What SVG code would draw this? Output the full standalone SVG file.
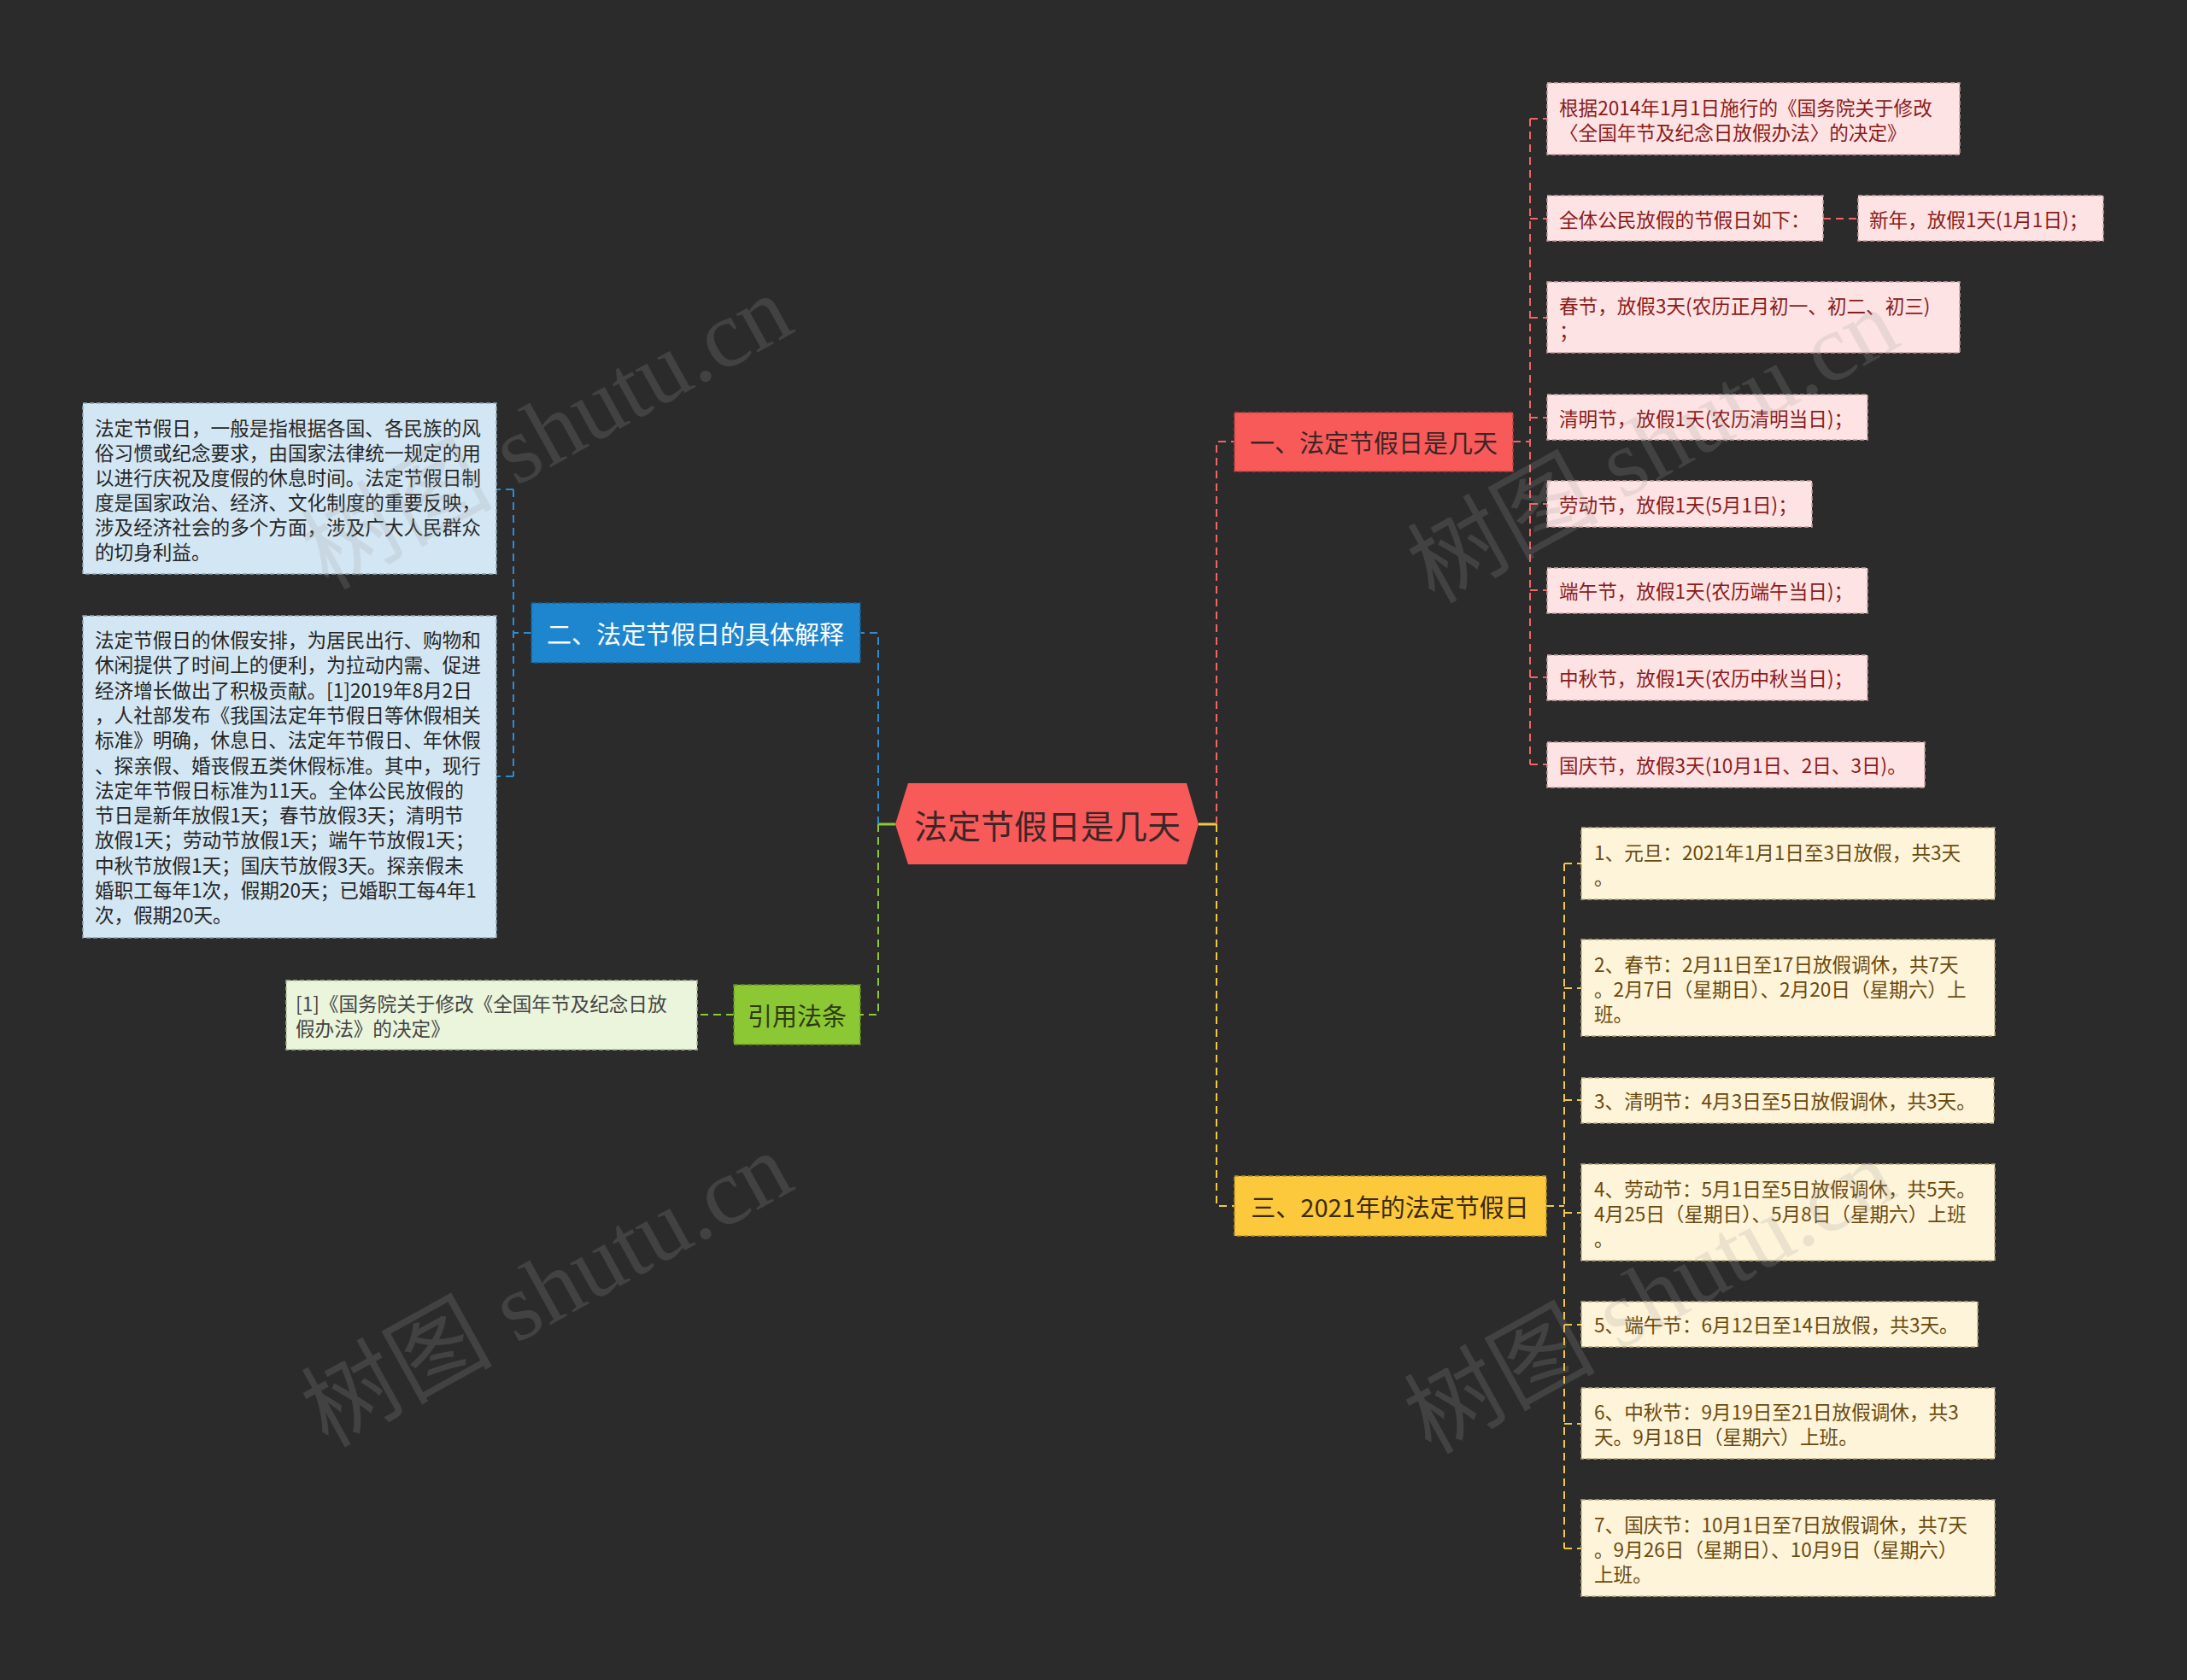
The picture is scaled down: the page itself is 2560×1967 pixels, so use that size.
<svg xmlns="http://www.w3.org/2000/svg" width="2560" height="1967" viewBox="0 0 2560 1967">
<style>
text{font-family:"Noto Sans CJK SC","Noto Sans",sans-serif;dominant-baseline:central}
.s{font-size:22.6px}
.m{font-size:29px}
.c{stroke-width:2;fill:none;stroke-dasharray:9 6}
.cr{stroke:#f06464}.cy{stroke:#f2c744}.cb{stroke:#2d8bd2}.cg{stroke:#8cc834}
.bd{stroke-width:1.5;stroke-dasharray:5 3}
.red{fill:#fde3e3;stroke:#c9a0a0}.redt{fill:#8a1c1c}
.yel{fill:#fdf4d9;stroke:#b8a878}.yelt{fill:#6b4a0e}
.blu{fill:#d3e6f3;stroke:#8fa6b8}.blut{fill:#262626}
.grn{fill:#eaf5dc;stroke:#a8b896}.grnt{fill:#444}
.wm{font-family:"Liberation Serif","Noto Sans CJK SC",serif;font-size:112px;fill:#a0a0a0;opacity:0.2}
</style>
<rect width="2560" height="1967" fill="#2b2b2b"/>

<g id="connectors">
<line x1="1403" y1="965" x2="1424" y2="965" stroke="#f2c744" stroke-width="3"/>
<line x1="1048" y1="965" x2="1028" y2="965" stroke="#8cc834" stroke-width="3"/>
<path class="c cr" d="M1424,965 V517 H1445"/>
<path class="c cy" d="M1424,965 V1412 H1445"/>
<path class="c cb" d="M1028,965 V741 H1007"/>
<path class="c cg" d="M1028,965 V1188 H1007"/>
<path class="c cb" d="M622,741 H601 M601,573 V909 M601,573 H581 M601,909 H581"/>
<path class="c cg" d="M859,1188 H816"/>
<path class="c cr" d="M1771,517 H1791 M1791,139 V895 M1791,139 H1811 M1791,256 H1811 M1791,372 H1811 M1791,489 H1811 M1791,590 H1811 M1791,691 H1811 M1791,793 H1811 M1791,895 H1811 M2134,256 H2175"/>
<path class="c cy" d="M1810,1412 H1831 M1831,1011 V1813 M1831,1011 H1851 M1831,1157 H1851 M1831,1288 H1851 M1831,1420 H1851 M1831,1551 H1851 M1831,1667 H1851 M1831,1813 H1851"/>
</g>

<g id="n-center">
<polygon points="1048,965 1063,917 1389,917 1403,965 1389,1012 1063,1012" fill="#f85a5a"/>
<text x="1226" y="965" font-size="39" text-anchor="middle" fill="#3a2626">法定节假日是几天</text>
</g>

<g id="n-b1">
<rect x="1445" y="483" width="326" height="69" fill="#f85a5a" stroke="#b84040" class="bd"/>
<text class="m" x="1608" y="517" text-anchor="middle" fill="#3a2626">一、法定节假日是几天</text>
</g>
<g id="n-b2">
<rect x="622" y="706" width="385" height="70" fill="#1e86cf" stroke="#165f94" class="bd"/>
<text class="m" x="814" y="741" text-anchor="middle" fill="#ffffff">二、法定节假日的具体解释</text>
</g>
<g id="n-b3">
<rect x="1445" y="1377" width="365" height="70" fill="#fcc83c" stroke="#b8922a" class="bd"/>
<text class="m" x="1627" y="1412" text-anchor="middle" fill="#3a2a10">三、2021年的法定节假日</text>
</g>
<g id="n-ref">
<rect x="859" y="1153" width="148" height="70" fill="#8cc834" stroke="#628c24" class="bd"/>
<text class="m" x="933" y="1188" text-anchor="middle" fill="#2e3a14">引用法条</text>
</g>

<g id="n-b1c1"><rect class="red bd" x="1811" y="97" width="483" height="84"/>
<text class="s redt"><tspan x="1825" y="124.5">根据2014年1月1日施行的《国务院关于修改</tspan><tspan x="1825" y="153.5">〈全国年节及纪念日放假办法〉的决定》</tspan></text></g>
<g id="n-b1c2"><rect class="red bd" x="1811" y="229" width="323" height="53"/>
<text class="s redt" x="1825" y="256">全体公民放假的节假日如下：</text></g>
<g id="n-b1c2a"><rect class="red bd" x="2175" y="229" width="287" height="53"/>
<text class="s redt" x="2188" y="256">新年，放假1天(1月1日)；</text></g>
<g id="n-b1c3"><rect class="red bd" x="1811" y="330" width="483" height="83"/>
<text class="s redt"><tspan x="1825" y="357">春节，放假3天(农历正月初一、初二、初三)</tspan><tspan x="1825" y="386">；</tspan></text></g>
<g id="n-b1c4"><rect class="red bd" x="1811" y="462" width="375" height="53"/>
<text class="s redt" x="1825" y="489">清明节，放假1天(农历清明当日)；</text></g>
<g id="n-b1c5"><rect class="red bd" x="1811" y="563" width="310" height="54"/>
<text class="s redt" x="1825" y="590">劳动节，放假1天(5月1日)；</text></g>
<g id="n-b1c6"><rect class="red bd" x="1811" y="665" width="375" height="53"/>
<text class="s redt" x="1825" y="691">端午节，放假1天(农历端午当日)；</text></g>
<g id="n-b1c7"><rect class="red bd" x="1811" y="767" width="375" height="53"/>
<text class="s redt" x="1825" y="793">中秋节，放假1天(农历中秋当日)；</text></g>
<g id="n-b1c8"><rect class="red bd" x="1811" y="869" width="442" height="53"/>
<text class="s redt" x="1825" y="895">国庆节，放假3天(10月1日、2日、3日)。</text></g>

<g id="n-b3c1"><rect class="yel bd" x="1851" y="969" width="484" height="84"/>
<text class="s yelt"><tspan x="1866" y="996.5">1、元旦：2021年1月1日至3日放假，共3天</tspan><tspan x="1866" y="1025.5">。</tspan></text></g>
<g id="n-b3c2"><rect class="yel bd" x="1851" y="1100" width="484" height="113"/>
<text class="s yelt"><tspan x="1866" y="1127.5">2、春节：2月11日至17日放假调休，共7天</tspan><tspan x="1866" y="1156.5">。2月7日（星期日）、2月20日（星期六）上</tspan><tspan x="1866" y="1185.5">班。</tspan></text></g>
<g id="n-b3c3"><rect class="yel bd" x="1851" y="1262" width="483" height="53"/>
<text class="s yelt" x="1866" y="1288.5">3、清明节：4月3日至5日放假调休，共3天。</text></g>
<g id="n-b3c4"><rect class="yel bd" x="1851" y="1363" width="484" height="113"/>
<text class="s yelt"><tspan x="1866" y="1390.5">4、劳动节：5月1日至5日放假调休，共5天。</tspan><tspan x="1866" y="1419.5">4月25日（星期日）、5月8日（星期六）上班</tspan><tspan x="1866" y="1448.5">。</tspan></text></g>
<g id="n-b3c5"><rect class="yel bd" x="1851" y="1524" width="464" height="53"/>
<text class="s yelt" x="1866" y="1550.5">5、端午节：6月12日至14日放假，共3天。</text></g>
<g id="n-b3c6"><rect class="yel bd" x="1851" y="1625" width="484" height="83"/>
<text class="s yelt"><tspan x="1866" y="1652">6、中秋节：9月19日至21日放假调休，共3</tspan><tspan x="1866" y="1681">天。9月18日（星期六）上班。</tspan></text></g>
<g id="n-b3c7"><rect class="yel bd" x="1851" y="1756" width="484" height="113"/>
<text class="s yelt"><tspan x="1866" y="1783.5">7、国庆节：10月1日至7日放假调休，共7天</tspan><tspan x="1866" y="1812.5">。9月26日（星期日）、10月9日（星期六）</tspan><tspan x="1866" y="1841.5">上班。</tspan></text></g>

<g id="n-b2c1"><rect class="blu bd" x="97" y="472" width="484" height="200"/>
<text class="s blut"><tspan x="111" y="500">法定节假日，一般是指根据各国、各民族的风</tspan><tspan x="111" y="529">俗习惯或纪念要求，由国家法律统一规定的用</tspan><tspan x="111" y="558">以进行庆祝及度假的休息时间。法定节假日制</tspan><tspan x="111" y="587">度是国家政治、经济、文化制度的重要反映，</tspan><tspan x="111" y="616">涉及经济社会的多个方面，涉及广大人民群众</tspan><tspan x="111" y="645">的切身利益。</tspan></text></g>
<g id="n-b2c2"><rect class="blu bd" x="97" y="721" width="484" height="377"/>
<text class="s blut"><tspan x="111" y="748">法定节假日的休假安排，为居民出行、购物和</tspan><tspan x="111" y="777.3">休闲提供了时间上的便利，为拉动内需、促进</tspan><tspan x="111" y="806.6">经济增长做出了积极贡献。[1]2019年8月2日</tspan><tspan x="111" y="835.9">，人社部发布《我国法定年节假日等休假相关</tspan><tspan x="111" y="865.2">标准》明确，休息日、法定年节假日、年休假</tspan><tspan x="111" y="894.5">、探亲假、婚丧假五类休假标准。其中，现行</tspan><tspan x="111" y="923.8">法定年节假日标准为11天。全体公民放假的</tspan><tspan x="111" y="953.1">节日是新年放假1天；春节放假3天；清明节</tspan><tspan x="111" y="982.4">放假1天；劳动节放假1天；端午节放假1天；</tspan><tspan x="111" y="1011.7">中秋节放假1天；国庆节放假3天。探亲假未</tspan><tspan x="111" y="1041">婚职工每年1次，假期20天；已婚职工每4年1</tspan><tspan x="111" y="1070.3">次，假期20天。</tspan></text></g>

<g id="n-refc1"><rect class="grn bd" x="335" y="1148" width="481" height="81"/>
<text class="s grnt"><tspan x="346" y="1174">[1]《国务院关于修改《全国年节及纪念日放</tspan><tspan x="346" y="1203">假办法》的决定》</tspan></text></g>

<g id="watermarks">
<text class="wm" transform="translate(640,506) rotate(-29)" text-anchor="middle">树图 shutu.cn</text>
<text class="wm" transform="translate(1935,522) rotate(-29)" text-anchor="middle">树图 shutu.cn</text>
<text class="wm" transform="translate(640,1510) rotate(-29)" text-anchor="middle">树图 shutu.cn</text>
<text class="wm" transform="translate(1931,1518) rotate(-29)" text-anchor="middle">树图 shutu.cn</text>
</g>
</svg>
